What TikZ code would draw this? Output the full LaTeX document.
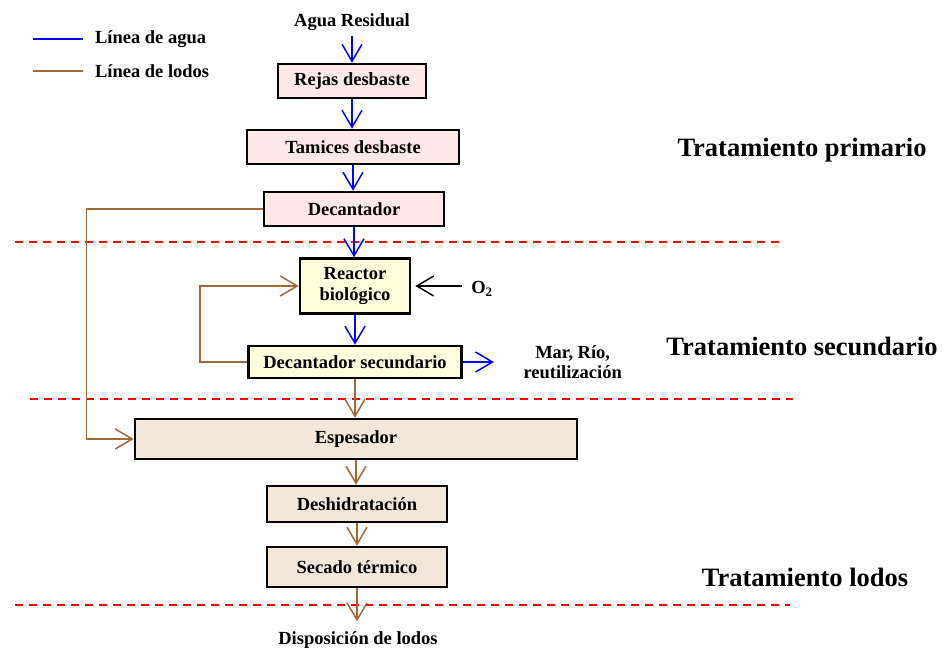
\documentclass[tikz,border=0pt]{standalone}
\usepackage{fontspec}
\setmainfont{Liberation Serif}
\usepackage{tikz}
\usetikzlibrary{arrows.meta,positioning}
\definecolor{aguablue}{RGB}{0,0,255}
\definecolor{lodobrown}{RGB}{160,105,55}
\definecolor{sepred}{RGB}{255,0,0}
\definecolor{primfill}{RGB}{255,232,232}
\definecolor{secfill}{RGB}{255,255,222}
\definecolor{lodofill}{RGB}{243,230,218}
\tikzset{
  procbox/.style={
    draw=black,line width=2.6pt,align=center,inner sep=2pt,
    font=\fontsize{18.5}{21.5}\selectfont\bfseries
  },
  primbox/.style={procbox,fill=primfill},
  secbox/.style={procbox,fill=secfill},
  lodobox/.style={procbox,fill=lodofill},
  plainlabel/.style={align=center,font=\fontsize{18.5}{20}\selectfont\bfseries},
  phaselabel/.style={font=\fontsize{26.5}{28}\selectfont\bfseries},
  agualine/.style={draw=aguablue,line width=1.5pt},
  lodoline/.style={draw=lodobrown,line width=1.5pt},
  aguaarrow/.style={agualine,-{Straight Barb[length=17pt,width=20pt,line width=1.5pt]}},
  lodoarrow/.style={lodoline,-{Straight Barb[length=17pt,width=20pt,line width=1.5pt]}},
  oxarrow/.style={draw=black,line width=1.5pt,-{Straight Barb[length=17pt,width=20pt,line width=1.5pt]}},
  sepline/.style={draw=sepred,line width=1.5pt,dash pattern=on 8pt off 6pt}
}
\begin{document}
\begin{tikzpicture}[x=1pt,y=-1pt]
  \useasboundingbox (0,0) rectangle (944,652);
  % legend
  \coordinate (legagua) at (33,39);
  \coordinate (leglodo) at (33,71);
  \draw[agualine] (legagua) -- ++(50,0) node[right=8pt,plainlabel] {Línea de agua};
  \draw[lodoline] (leglodo) -- ++(50,0) node[right=8pt,plainlabel] {Línea de lodos};
  % water line
  \node[plainlabel] (entrada) at (352,22) {Agua Residual};
  \node[primbox,minimum width=148pt,minimum height=34pt] (rejas) at (352,81) {Rejas desbaste};
  \node[primbox,minimum width=212pt,minimum height=34pt] (tamices) at (353,147) {Tamices desbaste};
  \node[primbox,minimum width=180pt,minimum height=34pt] (decant) at (354,209) {Decantador};
  \node[secbox,minimum width=110pt,minimum height=55pt] (reactor) at (355,286) {Reactor\\biológico};
  \node[secbox,minimum width=213pt,minimum height=32pt] (decsec) at (355,362) {Decantador secundario};
  \node[plainlabel] (oxigeno) at (482,289) {O$_\mathbf{2}$};
  \coordinate (salida) at (494,362);
  \node[plainlabel,right=26pt of salida] (vertido) {Mar, Río,\\reutilización};
  % sludge line
  \node[lodobox,minimum width=442pt,minimum height=40pt] (espes) at (356,439) {Espesador};
  \node[lodobox,minimum width=180pt,minimum height=36pt] (deshid) at (357,504) {Deshidratación};
  \node[lodobox,minimum width=180pt,minimum height=40pt] (secado) at (357,567) {Secado térmico};
  \node[plainlabel] (disposicion) at (358,640) {Disposición de lodos};
  % phases
  \node[phaselabel] (fase1) at (802,150) {Tratamiento primario};
  \node[phaselabel] (fase2) at (802,346) {Tratamiento secundario};
  \node[phaselabel] (fase3) at (805,577) {Tratamiento lodos};
  \draw[sepline] (15,242) -- (782,242);
  \draw[sepline] (30,399) -- (793,399);
  \draw[sepline] (15,605) -- (790,605);
  % connectors
  \draw[aguaarrow] (entrada.south) ++(0,2) -- (rejas.north);
  \draw[aguaarrow] (rejas.south) -- (rejas.south |- tamices.north);
  \draw[aguaarrow] (tamices.south) -- (tamices.south |- decant.north);
  \draw[aguaarrow] (decant.south) -- (decant.south |- reactor.north);
  \draw[aguaarrow] (reactor.south) -- (reactor.south |- decsec.north);
  \draw[aguaarrow] (decsec.east) -- (salida);
  \draw[oxarrow] ([xshift=-6pt]reactor.east -| oxigeno.west) -- ([xshift=4pt]reactor.east);
  \draw[lodoarrow] (decant.west) -- ++(-176,0) |- (espes.west);
  \draw[lodoarrow] (decsec.west) -- ++(-47,0) |- (reactor.west);
  \draw[lodoarrow] (decsec.south) -- (decsec.south |- espes.north);
  \draw[lodoarrow] (espes.south) -- (espes.south |- deshid.north);
  \draw[lodoarrow] (deshid.south) -- (deshid.south |- secado.north);
  \draw[lodoarrow] (secado.south) -- ++(0,33);
\end{tikzpicture}
\end{document}
